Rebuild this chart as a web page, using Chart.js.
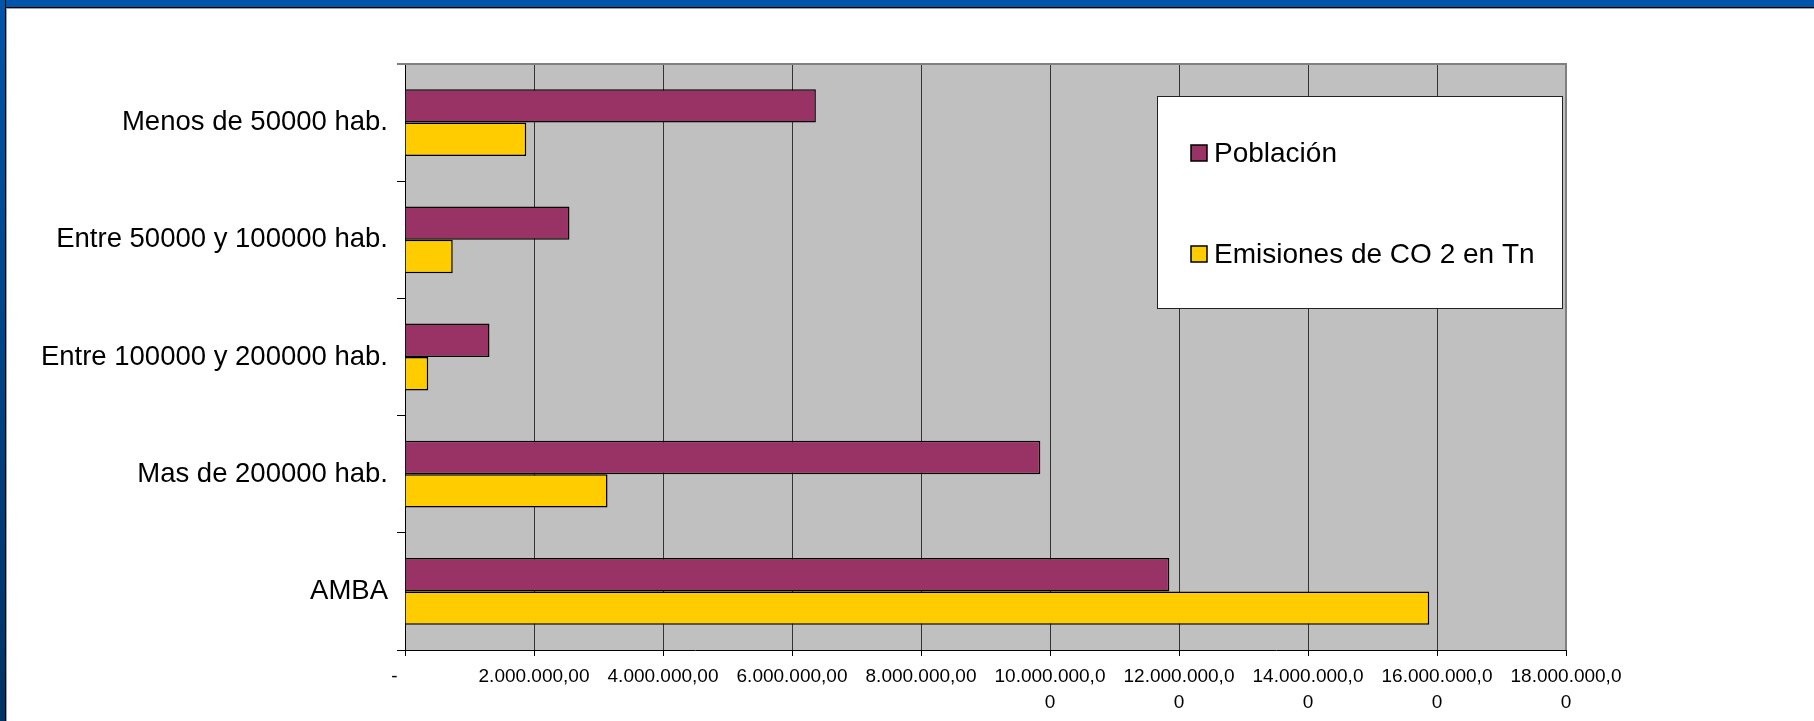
<!DOCTYPE html>
<html>
<head>
<meta charset="utf-8">
<script src="https://cdn.jsdelivr.net/npm/chart.js@4.4.1/dist/chart.umd.min.js"></script>
<style>
html,body{margin:0;padding:0;background:#fff;overflow:hidden;}
#wrap{position:relative;width:1814px;height:721px;background:#fff;}
#c{position:absolute;left:0;top:0;}
.topband{position:absolute;left:0;top:0;width:1814px;height:7px;background:#0055AA;border-bottom:1px solid #000;z-index:2;}
.topgray{position:absolute;left:0;top:8px;width:1814px;height:1px;background:#a0a0a0;z-index:2;}
.leftband{position:absolute;left:0;top:0;width:5px;height:721px;background:linear-gradient(#0055AA,#003366);border-right:1px solid #000;z-index:3;}
.leftgray{position:absolute;left:6px;top:9px;width:1px;height:712px;background:#a0a0a0;z-index:2;}
</style>
</head>
<body>
<div id="wrap">
  <canvas id="c" width="1814" height="721"></canvas>
  <div class="topband"></div>
  <div class="topgray"></div>
  <div class="leftband"></div>
  <div class="leftgray"></div>
</div>
<script>
// ---- Data ----
const categories = [
  'Menos de 50000 hab.',
  'Entre 50000 y 100000 hab.',
  'Entre 100000 y 200000 hab.',
  'Mas de 200000 hab.',
  'AMBA'
];
const seriesNames = ['Población', 'Emisiones de CO 2 en Tn'];
const poblacion = [6370000, 2550000, 1310000, 9850000, 11850000];
const emisiones = [1880000, 740000, 360000, 3140000, 15880000];
const xTickLabels = [
  '-    ',
  '2.000.000,00',
  '4.000.000,00',
  '6.000.000,00',
  '8.000.000,00',
  ['10.000.000,0', '0'],
  ['12.000.000,0', '0'],
  ['14.000.000,0', '0'],
  ['16.000.000,0', '0'],
  ['18.000.000,0', '0']
];
const xMin = 0, xMax = 18000000, xStep = 2000000;

// ---- Styles ----
const FONT = "'Liberation Sans', Arial, sans-serif";
const seriesColors = ['#993366', '#FFCC00'];

const plotBg = {
  id: 'plotBg',
  beforeDraw(chart) {
    const {ctx, chartArea: a} = chart;
    ctx.save();
    ctx.fillStyle = '#C0C0C0';
    ctx.fillRect(a.left, a.top, a.right - a.left, a.bottom - a.top);
    ctx.restore();
  },
  beforeDatasetsDraw(chart) {
    const {ctx, chartArea: a} = chart;
    ctx.save();
    ctx.strokeStyle = '#808080';
    ctx.lineWidth = 2;
    ctx.beginPath();
    ctx.moveTo(a.left - 8, a.top);
    ctx.lineTo(a.right, a.top);
    ctx.lineTo(a.right, a.bottom);
    ctx.stroke();
    ctx.restore();
  }
};

const boxLegend = {
  id: 'boxLegend',
  afterDraw(chart, args, opts) {
    const {ctx} = chart;
    const b = opts.box;
    ctx.save();
    ctx.fillStyle = '#fff';
    ctx.fillRect(b.left, b.top, b.right - b.left, b.bottom - b.top);
    ctx.strokeStyle = '#222';
    ctx.lineWidth = 1;
    ctx.strokeRect(b.left + 0.5, b.top + 0.5, b.right - b.left, b.bottom - b.top);
    ctx.font = opts.fontSize + 'px ' + FONT;
    ctx.textBaseline = 'middle';
    ctx.textAlign = 'left';
    chart.data.datasets.forEach((ds, i) => {
      const cy = opts.rows[i];
      const s = opts.swatch;
      ctx.fillStyle = ds.backgroundColor;
      ctx.fillRect(opts.swatchX, cy - s / 2, s, s);
      ctx.strokeStyle = '#000';
      ctx.lineWidth = 1.5;
      ctx.strokeRect(opts.swatchX, cy - s / 2, s, s);
      ctx.fillStyle = '#000';
      ctx.fillText(ds.label, opts.textX, cy + 1);
    });
    ctx.restore();
  }
};

new Chart(document.getElementById('c'), {
  type: 'bar',
  data: {
    labels: categories,
    datasets: [
      { label: seriesNames[0], data: poblacion, backgroundColor: seriesColors[0],
        borderColor: '#000', borderWidth: 1.5, categoryPercentage: 0.57, barPercentage: 1.0 },
      { label: seriesNames[1], data: emisiones, backgroundColor: seriesColors[1],
        borderColor: '#000', borderWidth: 1.5, categoryPercentage: 0.57, barPercentage: 1.0 }
    ]
  },
  options: {
    indexAxis: 'y',
    responsive: false,
    devicePixelRatio: 1,
    animation: false,
    layout: { padding: { left: 0, top: 64, right: 248, bottom: 0 } },
    plugins: {
      legend: { display: false },
      tooltip: { enabled: false },
      boxLegend: {
        box: { left: 1157, top: 96, right: 1562, bottom: 308 },
        rows: [153, 254],
        swatch: 16,
        swatchX: 1191,
        textX: 1214,
        fontSize: 28
      }
    },
    scales: {
      x: {
        type: 'linear',
        min: xMin, max: xMax,
        afterFit(scale) { scale.height = 71; },
        ticks: {
          stepSize: xStep,
          autoSkip: false,
          maxRotation: 0,
          minRotation: 0,
          padding: 8,
          color: '#000',
          font: { family: FONT, size: 19, lineHeight: 1.37 },
          callback: (v, i) => xTickLabels[i]
        },
        grid: { color: '#333', lineWidth: 1, tickLength: 6, tickColor: '#000', drawTicks: true },
        border: { color: '#000', width: 1 }
      },
      y: {
        afterFit(scale) { scale.width = 405; },
        ticks: {
          padding: 9,
          color: '#000',
          font: { family: FONT, size: 27.5 }
        },
        grid: {
          offset: true,
          drawOnChartArea: false,
          tickLength: 8,
          tickColor: (c) => c.index === 0 ? '#808080' : '#000'
        },
        border: { color: '#000', width: 1 }
      }
    }
  },
  plugins: [plotBg, boxLegend]
});
</script>
</body>
</html>
